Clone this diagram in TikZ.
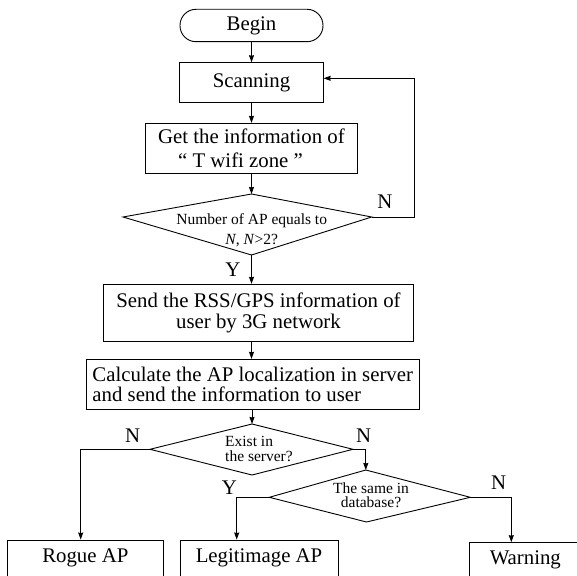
\documentclass[tikz,border=0pt]{standalone}
\usepackage{fontspec}
\setmainfont{Liberation Serif}
\usetikzlibrary{arrows.meta}
\begin{document}
\begin{tikzpicture}[x=1pt,y=-1pt,
  line/.style={line width=0.9pt, line join=miter},
  arr/.style={line, -{Stealth[length=7pt,width=5pt,inset=0.5pt]}},
  box/.style={draw, line width=0.9pt, inner sep=0pt, align=center,
              font=\fontsize{20.8}{21.5}\selectfont},
  dtext/.style={inner sep=0pt, align=center},
  lab/.style={inner sep=0pt, font=\fontsize{20.8}{21.5}\selectfont}]
\useasboundingbox (0,0) rectangle (577,575);
\fill[white] (0,0) rectangle (577,575);
\clip (0,0) rectangle (577,575);

% --- main column boxes ---
\node[box, rounded corners=16pt, minimum width=143pt, minimum height=32.4pt] (begin) at (251.5,25.5) {Begin};
\node[box, minimum width=143.3pt, minimum height=39.6pt] (scan) at (251.5,82.5) {Scanning};
\node[box, minimum width=212.7pt, minimum height=50pt,
      font=\fontsize{20.8}{23.3}\selectfont] (get) at (251.5,148.3)
      {Get the information of\\“ T wifi zone ”\hspace*{22pt}};

% --- decision 1 ---
\coordinate (d1t) at (251.5,194);
\coordinate (d1l) at (123,217);
\coordinate (d1r) at (371.7,217);
\coordinate (d1b) at (251.5,255);
\draw[line] (d1t) -- (d1r) -- (d1b) -- (d1l) -- cycle;
\node[dtext, font=\fontsize{15.5}{19.7}\selectfont] (q1) at (251.7,230)
      {Number of AP equals to\\\textit{N}, \textit{N}>2?};

\node[box, minimum width=310.4pt, minimum height=57.4pt,
      font=\fontsize{20.8}{21.7}\selectfont] (send) at (258.5,313)
      {Send the RSS/GPS information of\\user by 3G network};
\node[box, align=left, inner xsep=6pt, minimum width=332pt, minimum height=50pt,
      font=\fontsize{20.8}{20.5}\selectfont] (calc) at (252.7,384.3)
      {Calculate the AP localization in server\\and send the information to user};

% --- decision 2 ---
\coordinate (d2t) at (252,424);
\coordinate (d2l) at (150,449.3);
\coordinate (d2r) at (353,449.3);
\coordinate (d2b) at (252,475);
\draw[line] (d2t) -- (d2r) -- (d2b) -- (d2l) -- cycle;
\node[dtext, align=left, anchor=west, font=\fontsize{15.5}{15}\selectfont] (q2) at (225,448.9)
      {Exist in\\the server?};

% --- decision 3 ---
\coordinate (d3t) at (365.8,470);
\coordinate (d3l) at (269.3,497.3);
\coordinate (d3r) at (470.3,497.3);
\coordinate (d3b) at (366.5,522);
\draw[line] (d3t) -- (d3r) -- (d3b) -- (d3l) -- cycle;
\node[dtext, font=\fontsize{15.5}{14}\selectfont] (q3) at (371,495)
      {The same in\\database?};

% --- outcome boxes ---
\node[box, minimum width=156pt, minimum height=36pt] (rogue) at (85.3,558) {Rogue AP};
\node[box, minimum width=158pt, minimum height=36pt] (legit) at (259,558) {Legitimage AP};
\node[box, minimum width=112pt, minimum height=35.3pt] (warn) at (525.3,560.3) {Warning};

% --- helper coordinates for bends ---
\coordinate (fb) at (414.3,78.3);
\coordinate (rl) at (80.7,449.3);
\coordinate (ll) at (236.7,497.3);
\coordinate (wl) at (511.3,497.3);

% --- connectors ---
\draw[arr] (begin) -- (scan);
\draw[arr] (scan) -- (get);
\draw[arr] (get.south -| d1t) -- (d1t);
\draw[arr] (d1r) -| (fb) -- (fb -| scan.east);
\draw[arr] (d1b) -- (d1b |- send.north);
\draw[arr] (send.south -| d1b) -- (calc.north -| d1b);
\draw[arr] (calc.south -| d2t) -- (d2t);
\draw[arr] (d2l) -| (rl |- rogue.north);
\draw[arr] (d2r) -| (d3t);
\draw[arr] (d3l) -| (ll |- legit.north);
\draw[arr] (d3r) -| (wl |- warn.north);

% --- labels ---
\node[lab] (n1) at (385,202) {N};
\node[lab] (y1) at (233,270) {Y};
\node[lab] (n2) at (132.7,436) {N};
\node[lab] (n3) at (363.7,436) {N};
\node[lab] (y2) at (229.3,487.3) {Y};
\node[lab] (n4) at (498.7,482.7) {N};
\end{tikzpicture}
\end{document}
